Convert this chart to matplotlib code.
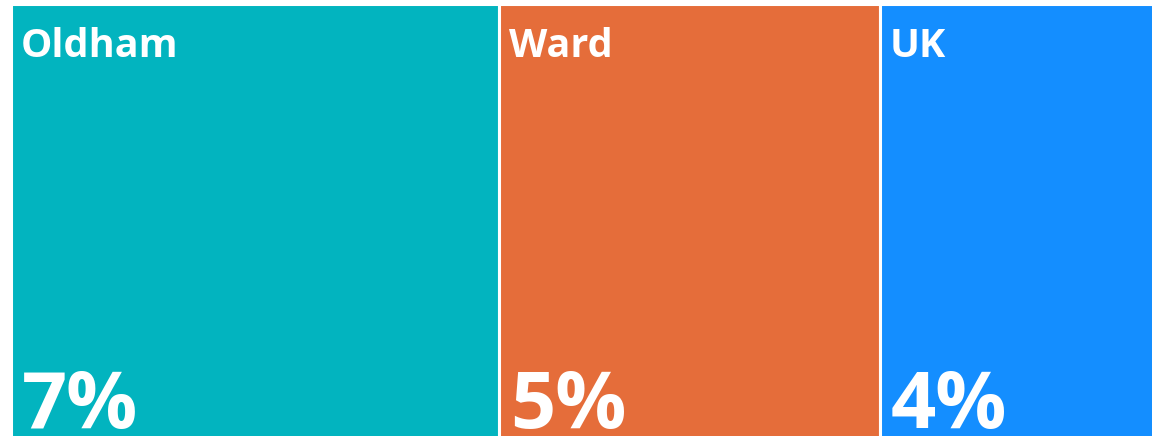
import numpy as np
import matplotlib.pyplot as plt

names = ['Oldham', 'Ward', 'UK']
values = [6.6, 5.15, 3.7]
labels = ['7%', '5%', '4%']
colors = ['#02B4BF', '#E56D3A', '#148EFF']

fig = plt.figure(figsize=(11.52, 4.36), dpi=100)
ax = fig.add_axes([10.5 / 1152, -3 / 436, 1 - 9 / 1152, 434.5 / 436])

lefts = np.concatenate([[0], np.cumsum(values)[:-1]])
ax.bar(lefts, [1] * len(values), width=values, align='edge', color=colors,
       edgecolor='white', linewidth=2.2)
ax.set_xlim(0, sum(values))
ax.set_ylim(0, 1)
ax.axis('off')

for left, name, lab in zip(lefts, names, labels):
    ax.annotate(name, xy=(left, 1), xytext=(10, -42), textcoords='offset pixels',
                ha='left', va='center', color='white', fontsize=28.5,
                fontweight='bold', family='Open Sans')
    ax.annotate(lab, xy=(left, 0), xytext=(11, 11), textcoords='offset pixels',
                ha='left', va='baseline', color='white', fontsize=57,
                fontweight='bold', family='Open Sans', annotation_clip=False)

fig.savefig('out.png', dpi=100)
